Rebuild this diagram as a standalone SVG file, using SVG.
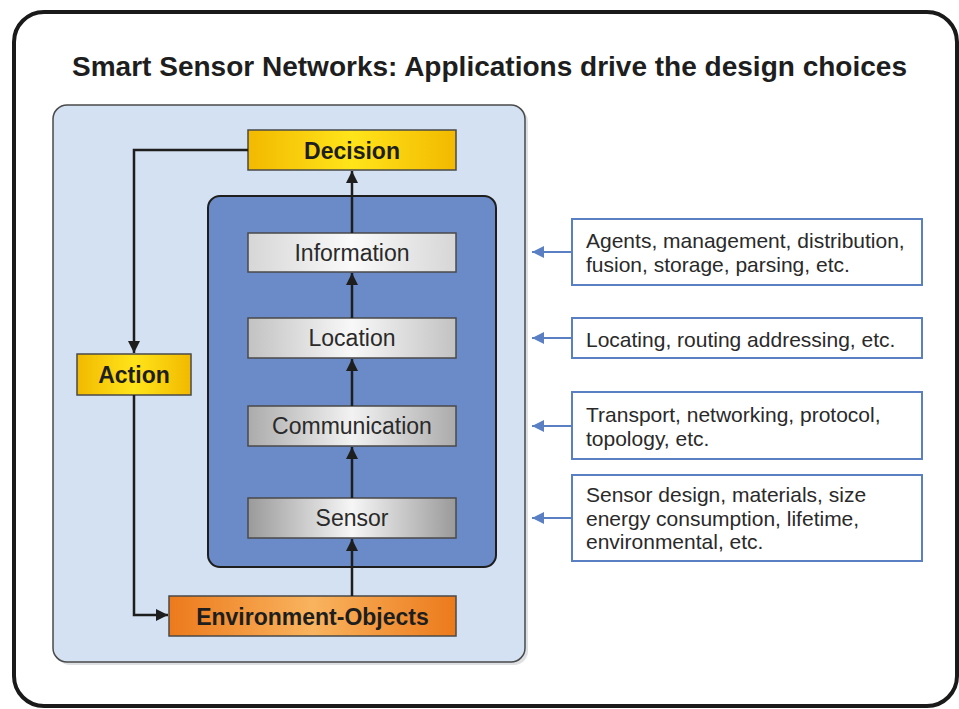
<svg xmlns="http://www.w3.org/2000/svg" width="959" height="709" viewBox="0 0 959 709">
<defs>
<linearGradient id="gYellow" x1="0" y1="0" x2="1" y2="0">
<stop offset="0" stop-color="#f2b900"/><stop offset="0.5" stop-color="#ffe41a"/><stop offset="1" stop-color="#f2b900"/>
</linearGradient>
<linearGradient id="gOrange" x1="0" y1="0" x2="1" y2="0">
<stop offset="0" stop-color="#ec7a1c"/><stop offset="0.5" stop-color="#f9b35e"/><stop offset="1" stop-color="#ec7a1c"/>
</linearGradient>
<linearGradient id="gGray1" x1="0" y1="0" x2="1" y2="0">
<stop offset="0" stop-color="#d6d6d6"/><stop offset="0.5" stop-color="#fafafa"/><stop offset="1" stop-color="#d6d6d6"/>
</linearGradient>
<linearGradient id="gGray2" x1="0" y1="0" x2="1" y2="0">
<stop offset="0" stop-color="#c2c2c2"/><stop offset="0.5" stop-color="#f8f8f8"/><stop offset="1" stop-color="#c2c2c2"/>
</linearGradient>
<linearGradient id="gGray3" x1="0" y1="0" x2="1" y2="0">
<stop offset="0" stop-color="#ababab"/><stop offset="0.5" stop-color="#f2f2f2"/><stop offset="1" stop-color="#ababab"/>
</linearGradient>
<linearGradient id="gGray4" x1="0" y1="0" x2="1" y2="0">
<stop offset="0" stop-color="#9a9a9a"/><stop offset="0.5" stop-color="#f6f6f6"/><stop offset="1" stop-color="#9a9a9a"/>
</linearGradient>
<marker id="arrBlack" viewBox="0 0 10 10" refX="10" refY="5" markerWidth="4.8" markerHeight="4.8" orient="auto" markerUnits="strokeWidth">
<path d="M0,0 L10,5 L0,10 Z" fill="#1e1e1e"/>
</marker>
<marker id="arrBlue" viewBox="0 0 10 10" refX="10" refY="5" markerWidth="6" markerHeight="6" orient="auto" markerUnits="strokeWidth">
<path d="M0,0 L10,5 L0,10 Z" fill="#5a7fc2"/>
</marker>
</defs>
<style>
.frame{fill:#ffffff;stroke:#1a1a1a;stroke-width:4}
.title{font-family:"Liberation Sans",Arial,sans-serif;font-weight:bold;font-size:28px;fill:#1e1e1e}
.panel{fill:#d3e1f2;stroke:#4a4a4a;stroke-width:1.5}
.inner{fill:#6a8bc8;stroke:#1e1e1e;stroke-width:2}
.box{stroke:#4a4a4a;stroke-width:1.5}
.lbl{font-family:"Liberation Sans",Arial,sans-serif;font-size:23px;fill:#2a2a2a;text-anchor:middle}
.blbl{font-family:"Liberation Sans",Arial,sans-serif;font-size:23px;font-weight:bold;fill:#1e1e1e;text-anchor:middle}
.note{fill:#ffffff;stroke:#5a7fc2;stroke-width:2}
.ntxt{font-family:"Liberation Sans",Arial,sans-serif;font-size:21px;fill:#2a2a2a}
.conn{fill:none;stroke:#1e1e1e;stroke-width:2.5}
.bconn{fill:none;stroke:#5a7fc2;stroke-width:2}
</style>
<rect class="frame" x="14" y="12" width="943" height="694" rx="30"/>
<text class="title" x="72" y="76" textLength="835" lengthAdjust="spacingAndGlyphs">Smart Sensor Networks: Applications drive the design choices</text>
<g id="panel-outer">
<rect x="56" y="108" width="472" height="557" rx="14" fill="#c8ccd2" opacity="0.6"/>
<rect class="panel" x="53" y="105" width="472" height="557" rx="14"/>
</g>
<g id="panel-inner">
<rect class="inner" x="208" y="196" width="288" height="371" rx="12"/>
</g>
<g id="decision">
<rect class="box" x="248" y="130" width="208" height="40" fill="url(#gYellow)"/>
<text class="blbl" x="352" y="159">Decision</text>
</g>
<g id="information">
<rect class="box" x="248" y="233" width="208" height="39" fill="url(#gGray1)"/>
<text class="lbl" x="352" y="261">Information</text>
</g>
<g id="location">
<rect class="box" x="248" y="318" width="208" height="40" fill="url(#gGray2)"/>
<text class="lbl" x="352" y="346">Location</text>
</g>
<g id="communication">
<rect class="box" x="248" y="406" width="208" height="40" fill="url(#gGray3)"/>
<text class="lbl" x="352" y="434">Communication</text>
</g>
<g id="sensor">
<rect class="box" x="248" y="498" width="208" height="40" fill="url(#gGray4)"/>
<text class="lbl" x="352" y="526">Sensor</text>
</g>
<g id="action">
<rect class="box" x="77" y="354" width="114" height="41" fill="url(#gYellow)"/>
<text class="blbl" x="134" y="383">Action</text>
</g>
<g id="environment-objects">
<rect class="box" x="169" y="596" width="287" height="40" fill="url(#gOrange)"/>
<text class="blbl" x="312.5" y="625">Environment-Objects</text>
</g>
<g id="note-info">
<rect class="note" x="572" y="219" width="350" height="66"/>
<text class="ntxt" x="586" y="248">Agents, management, distribution,</text>
<text class="ntxt" x="586" y="272">fusion, storage, parsing, etc.</text>
</g>
<g id="note-location">
<rect class="note" x="572" y="318" width="350" height="40"/>
<text class="ntxt" x="586" y="347">Locating, routing addressing, etc.</text>
</g>
<g id="note-communication">
<rect class="note" x="572" y="392" width="350" height="67"/>
<text class="ntxt" x="586" y="422">Transport, networking, protocol,</text>
<text class="ntxt" x="586" y="446">topology, etc.</text>
</g>
<g id="note-sensor">
<rect class="note" x="572" y="475" width="350" height="86"/>
<text class="ntxt" x="586" y="502">Sensor design, materials, size</text>
<text class="ntxt" x="586" y="526">energy consumption, lifetime,</text>
<text class="ntxt" x="586" y="549">environmental, etc.</text>
</g>
<g id="connectors">
<path class="conn" d="M248,150 H134 V353" marker-end="url(#arrBlack)"/>
<path class="conn" d="M134,395 V615 H168" marker-end="url(#arrBlack)"/>
<path class="conn" d="M352,596 V539" marker-end="url(#arrBlack)"/>
<path class="conn" d="M352,498 V447" marker-end="url(#arrBlack)"/>
<path class="conn" d="M352,406 V359" marker-end="url(#arrBlack)"/>
<path class="conn" d="M352,318 V273" marker-end="url(#arrBlack)"/>
<path class="conn" d="M352,233 V171" marker-end="url(#arrBlack)"/>
<path class="bconn" d="M572,252 H532" marker-end="url(#arrBlue)"/>
<path class="bconn" d="M572,338 H532" marker-end="url(#arrBlue)"/>
<path class="bconn" d="M572,426 H532" marker-end="url(#arrBlue)"/>
<path class="bconn" d="M572,518 H532" marker-end="url(#arrBlue)"/>
</g>
</svg>
